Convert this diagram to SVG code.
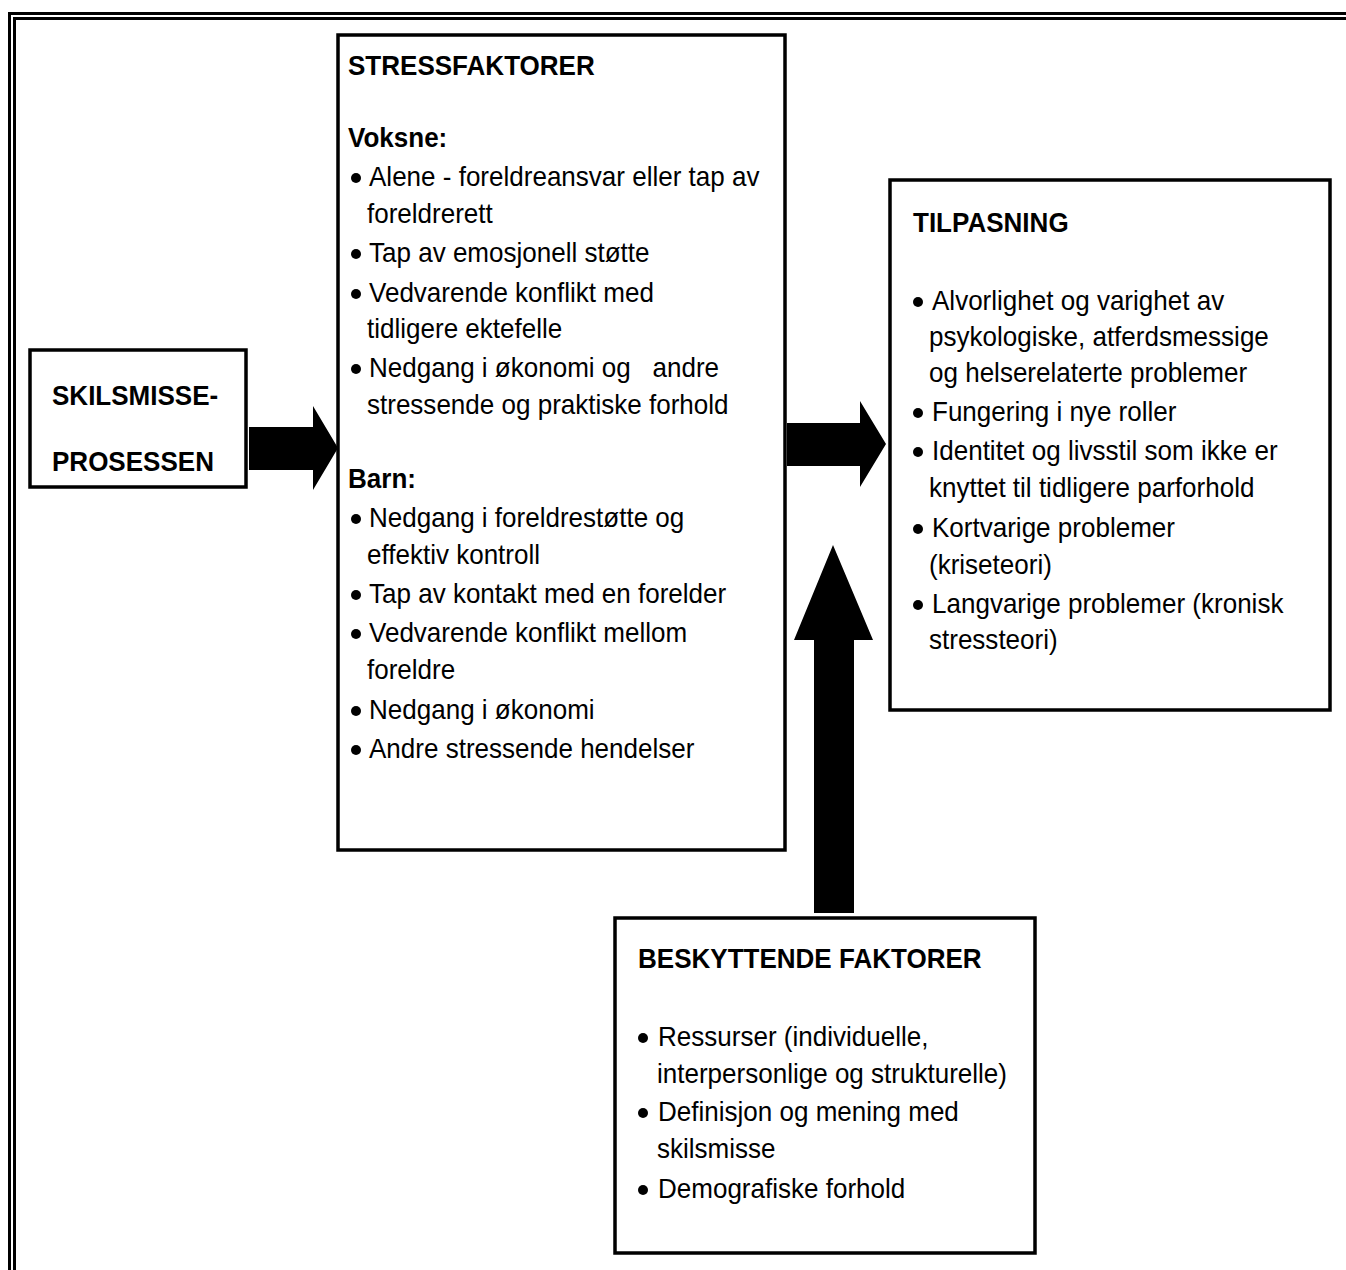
<svg xmlns="http://www.w3.org/2000/svg" width="1346" height="1270" viewBox="0 0 1346 1270">
<style>
  text { font-family: "Liberation Sans", Arial, sans-serif; font-size: 28px; fill: #000;
         transform: scale(0.93, 1); transform-box: fill-box; transform-origin: 0 0; }
  .h { font-weight: bold; }
  .box { fill: #fff; stroke: #000; stroke-width: 3.5; }
  .frame { fill: none; stroke: #000; stroke-width: 3; }
  .arrow { fill: #000; stroke: none; }
  .dot { fill: #000; }
</style>
<rect width="1346" height="1270" fill="#fff"/>
<g id="frame">
  <path class="frame" d="M9.5 1270 V13.5 H1346"/>
  <path class="frame" d="M14.5 1270 V18.5 H1346"/>
</g>

<g id="node-skilsmisse">
  <rect class="box" x="30" y="350" width="216" height="137"/>
  <text class="h" x="52" y="405">SKILSMISSE-</text>
  <text class="h" x="52" y="471">PROSESSEN</text>
</g>

<g id="node-stressfaktorer">
  <rect class="box" x="338" y="35" width="447" height="815"/>
  <text class="h" x="348" y="75">STRESSFAKTORER</text>
  <text class="h" x="348" y="147">Voksne:</text>
  <circle class="dot" cx="356" cy="178" r="5"/>
  <text x="369" y="186">Alene - foreldreansvar eller tap av</text>
  <text x="367" y="223">foreldrerett</text>
  <circle class="dot" cx="356" cy="254" r="5"/>
  <text x="369" y="262">Tap av emosjonell støtte</text>
  <circle class="dot" cx="356" cy="294" r="5"/>
  <text x="369" y="302">Vedvarende konflikt med</text>
  <text x="367" y="338">tidligere ektefelle</text>
  <circle class="dot" cx="356" cy="369" r="5"/>
  <text x="369" y="377" xml:space="preserve">Nedgang i økonomi og   andre</text>
  <text x="367" y="414">stressende og praktiske forhold</text>
  <text class="h" x="348" y="488">Barn:</text>
  <circle class="dot" cx="356" cy="519" r="5"/>
  <text x="369" y="527">Nedgang i foreldrestøtte og</text>
  <text x="367" y="564">effektiv kontroll</text>
  <circle class="dot" cx="356" cy="595" r="5"/>
  <text x="369" y="603">Tap av kontakt med en forelder</text>
  <circle class="dot" cx="356" cy="634" r="5"/>
  <text x="369" y="642">Vedvarende konflikt mellom</text>
  <text x="367" y="679">foreldre</text>
  <circle class="dot" cx="356" cy="711" r="5"/>
  <text x="369" y="719">Nedgang i økonomi</text>
  <circle class="dot" cx="356" cy="750" r="5"/>
  <text x="369" y="758">Andre stressende hendelser</text>
</g>

<g id="node-tilpasning">
  <rect class="box" x="890" y="180" width="440" height="530"/>
  <text class="h" x="913" y="232">TILPASNING</text>
  <circle class="dot" cx="918" cy="302" r="5"/>
  <text x="932" y="310">Alvorlighet og varighet av</text>
  <text x="929" y="346">psykologiske, atferdsmessige</text>
  <text x="929" y="382">og helserelaterte problemer</text>
  <circle class="dot" cx="918" cy="413" r="5"/>
  <text x="932" y="421">Fungering i nye roller</text>
  <circle class="dot" cx="918" cy="452" r="5"/>
  <text x="932" y="460">Identitet og livsstil som ikke er</text>
  <text x="929" y="497">knyttet til tidligere parforhold</text>
  <circle class="dot" cx="918" cy="529" r="5"/>
  <text x="932" y="537">Kortvarige problemer</text>
  <text x="929" y="574">(kriseteori)</text>
  <circle class="dot" cx="918" cy="605" r="5"/>
  <text x="932" y="613">Langvarige problemer (kronisk</text>
  <text x="929" y="649">stressteori)</text>
</g>

<g id="node-beskyttende">
  <rect class="box" x="615" y="918" width="420" height="335"/>
  <text class="h" x="638" y="968">BESKYTTENDE FAKTORER</text>
  <circle class="dot" cx="643" cy="1038" r="5"/>
  <text x="658" y="1046">Ressurser (individuelle,</text>
  <text x="657" y="1083">interpersonlige og strukturelle)</text>
  <circle class="dot" cx="643" cy="1113" r="5"/>
  <text x="658" y="1121">Definisjon og mening med</text>
  <text x="657" y="1158">skilsmisse</text>
  <circle class="dot" cx="643" cy="1190" r="5"/>
  <text x="658" y="1198">Demografiske forhold</text>
</g>

<g id="connectors">
  <polygon class="arrow" points="249,427 313,427 313,406 338,448 313,490 313,470 249,470"/>
  <polygon class="arrow" points="787,423 860,423 860,401 886,444 860,487 860,466 787,466"/>
  <polygon class="arrow" points="814,913 814,640 794,640 833,545 873,640 854,640 854,913"/>
</g>
</svg>
